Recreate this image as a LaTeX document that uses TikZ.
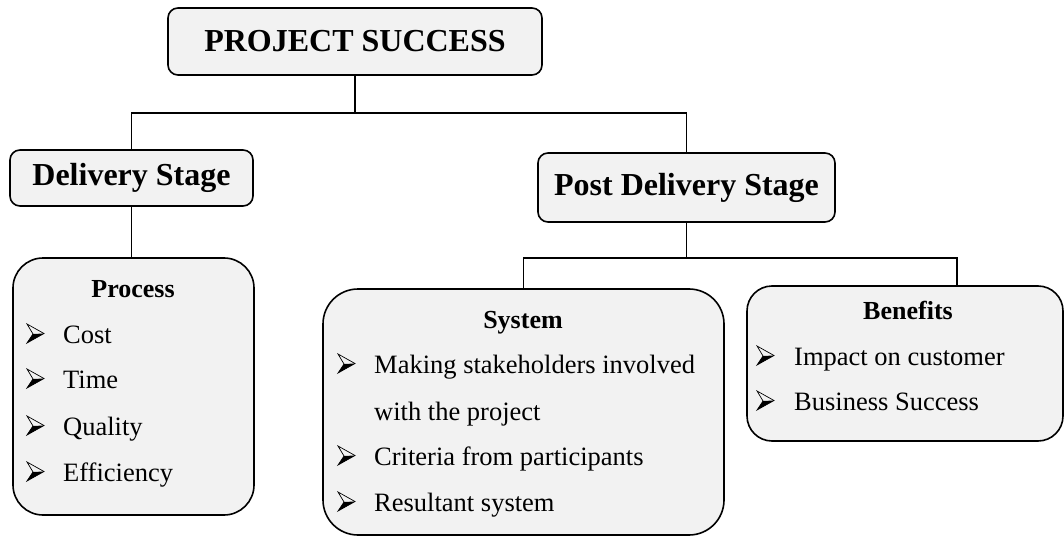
\documentclass[tikz,border=0pt]{standalone}
\usepackage{fontspec}
\setmainfont{Liberation Serif}
\definecolor{boxgray}{HTML}{F2F2F2}
\begin{document}
\begin{tikzpicture}[x=1pt,y=-1pt,
  box/.style={draw=black, line width=1.6pt, fill=boxgray, rounded corners=#1, inner sep=0pt},
  box/.default=10pt,
  big/.style={font=\fontsize{32}{38}\selectfont\bfseries},
  head/.style={font=\fontsize{26}{31}\selectfont\bfseries, anchor=base, inner sep=0pt},
  item/.style={font=\fontsize{26.5}{31}\selectfont, anchor=base west, inner sep=0pt},
  conn/.style={line width=1.6pt},
  arrowbul/.pic={
    \fill[black] (6,-9) -- (17,-9.5) -- (0,0) -- cycle;
    \draw[line width=0.7pt, line join=miter] (0,-19) -- (17,-9.5) -- (0,0) -- (6,-9) -- cycle;
  }]
\useasboundingbox (0,0) rectangle (1064,537);
% boxes
\node[box, big, minimum width=374pt, minimum height=67pt] (top) at (355,41.5) {PROJECT SUCCESS};
\node[box, big, minimum width=243pt, minimum height=56pt] (delivery) at (131.5,178) {Delivery Stage};
\node[box, big, minimum width=297pt, minimum height=69pt] (post) at (686.5,187.5) {Post Delivery Stage};
\node[box=30pt, minimum width=241pt, minimum height=257pt] (process) at (133.5,386.5) {};
\node[box=35pt, minimum width=401pt, minimum height=246pt] (system) at (523.5,412) {};
\node[box=25pt, minimum width=316pt, minimum height=155pt] (benefits) at (905,363.5) {};
% connectors
\coordinate (j1) at (355,113);
\draw[conn] (top.south) -- (j1);
\draw[conn] (delivery.north) -- (delivery.north |- j1) -- (post.north |- j1) -- (post.north);
\draw[conn] (delivery.south) -- (delivery.south |- process.north);
\coordinate (b2) at (957,258);
\draw[conn] (post.south) -- (post.south |- b2);
\draw[conn] (system.north) -- (system.north |- b2) -- (b2) -- (b2 |- benefits.north);
% Process
\node[head] (ptitle) at (133,297) {Process};
\pic (pb1) at (27,343) {arrowbul};
\node[item] (pi1) at (63,343) {Cost};
\pic (pb2) at (27,388) {arrowbul};
\node[item] (pi2) at (63,388) {Time};
\pic (pb3) at (27,435) {arrowbul};
\node[item] (pi3) at (63,435) {Quality};
\pic (pb4) at (27,481) {arrowbul};
\node[item] (pi4) at (63,481) {Efficiency};
% System
\node[head] (stitle) at (523,328) {System};
\pic (sb1) at (338,373) {arrowbul};
\node[item] (si1) at (374,373) {Making stakeholders involved};
\node[item] (si1b) at (374,420) {with the project};
\pic (sb2) at (338,465) {arrowbul};
\node[item] (si2) at (374,465) {Criteria from participants};
\pic (sb3) at (338,511) {arrowbul};
\node[item] (si3) at (374,511) {Resultant system};
% Benefits
\node[head] (btitle) at (908,319) {Benefits};
\pic (bb1) at (757,365) {arrowbul};
\node[item] (bi1) at (794,365) {Impact on customer};
\pic (bb2) at (757,410) {arrowbul};
\node[item] (bi2) at (794,410) {Business Success};
\end{tikzpicture}
\end{document}
